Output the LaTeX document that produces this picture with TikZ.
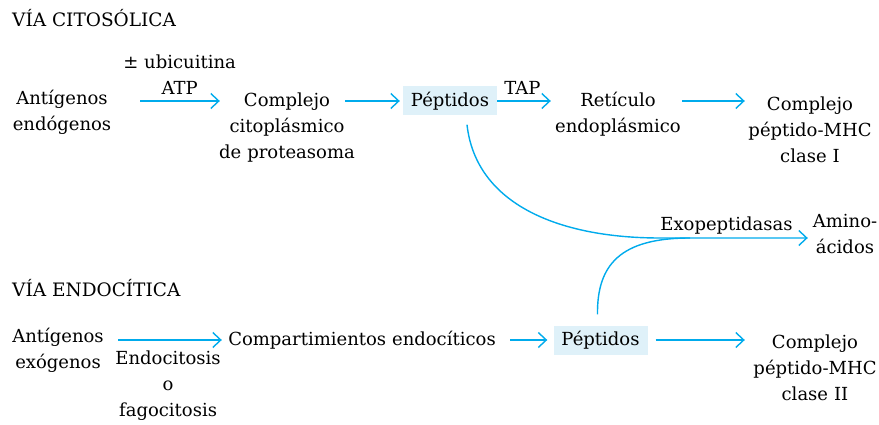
\documentclass[tikz,border=0pt]{standalone}
\usepackage{fontspec}
\setmainfont{DejaVu Serif}
\usetikzlibrary{arrows.meta,positioning}
\definecolor{cian}{RGB}{0,171,236}
\definecolor{celeste}{RGB}{223,241,249}
\begin{document}
\begin{tikzpicture}[
    x=1pt, y=-1pt,
    >={Straight Barb[length=8pt,width=15pt]},
    txt/.style={align=center, inner sep=0pt, text=black, font=\fontsize{18}{26}\selectfont},
    pep/.style={txt, fill=celeste, minimum width=94pt, minimum height=29pt},
    via/.style={anchor=west, inner sep=0pt, font=\fontsize{18.5}{22}\selectfont},
    arr/.style={->, color=cian, line width=1.4pt}
]
    \useasboundingbox (0,0) rectangle (879,425);
    % via citosolica
    \node[via] (vcit) at (12,18) {VÍA CITOSÓLICA};
    \node[txt, text width=110pt] (antend) at (62,112) {Antígenos\\endógenos};
    \node[txt, text width=150pt] (compl) at (287,128) {Complejo\\citoplásmico\\de proteasoma};
    \node[pep] (pep1) at (450,101) {Péptidos};
    \node[txt, text width=140pt] (retic) at (618,114.5) {Retículo\\endoplásmico};
    \node[txt, text width=130pt] (compI) at (810,130) {Complejo\\péptido-MHC\\clase I};
    \node[txt, text width=74pt] (amino) at (845,234.5) {Amino-\\ácidos};
    \coordinate (une) at (660,238);
    \coordinate (junta) at (690,238);
    \draw[arr, shorten <=23pt, shorten >=-8pt] (antend.east |- pep1) -- (compl.west |- pep1)
        node[pos=0.66, above=6pt, txt] (ubi) {± ubicuitina\\ATP};
    \draw[arr, shorten <=-17pt, shorten >=3pt] (compl.east |- pep1) -- (pep1.west);
    \draw[arr, shorten >=-3pt] (pep1.east) -- (retic.west |- pep1)
        node[midway, above=6pt, txt] (tap) {TAP};
    \draw[arr, shorten <=-6pt] (retic.east |- pep1) -- (compI.west |- pep1);
    \draw[arr] ([xshift=17pt,yshift=-9pt]pep1.south) .. controls (476,205) and (560,238) .. (une)
        -- (amino.west |- une) node[pos=0.45, above=3pt, txt] (exo) {Exopeptidasas};
    % via endocitica
    \node[via] (vendo) at (12,288) {VÍA ENDOCÍTICA};
    \node[txt, text width=110pt] (antexo) at (58,350.5) {Antígenos\\exógenos};
    \node[txt, text width=290pt] (compart) at (362,340) {Compartimientos endocíticos};
    \node[pep] (pep2) at (600.5,340) {Péptidos};
    \node[txt, text width=140pt] (compII) at (815,367.5) {Complejo\\péptido-MHC\\clase II};
    \draw[arr, shorten <=5pt, shorten >=-5pt] (antexo.east |- compart) -- (compart.west)
        node[pos=0.53, below=10pt, txt] (endo) {Endocitosis\\o\\fagocitosis};
    \draw[arr, shorten <=3pt, shorten >=6pt] (compart.east) -- (pep2.west);
    \draw[arr, shorten <=8pt] (pep2.east) -- (compII.west |- pep2);
    \draw[color=cian, line width=1.4pt] ([xshift=-3pt,yshift=11pt]pep2.north)
        .. controls (597,265) and (620,238) .. (junta);
\end{tikzpicture}
\end{document}
